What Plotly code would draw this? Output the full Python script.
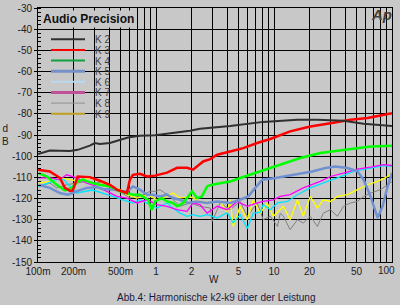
import plotly.graph_objects as go

# ---------------- data (W, dB) ----------------
k2_w = [0.1, 0.126, 0.186, 0.217, 0.275, 0.303, 0.334, 0.407, 0.476, 0.578, 0.731, 0.98, 1.94, 2.36, 4.25, 8.1, 15.8, 23.3, 38.8, 57.4, 100]
k2_db = [-99, -97.3, -97.5, -97, -95, -93.8, -94.2, -93.8, -92.6, -91.2, -90.4, -90.1, -88, -87, -85.7, -83.8, -82.8, -82.8, -83.3, -84.7, -85.8]

k3_w = [0.1, 0.126, 0.153, 0.169, 0.186, 0.197, 0.217, 0.275, 0.334, 0.407, 0.467, 0.567, 0.601, 0.638, 0.731, 0.839, 0.98, 1.24, 1.51, 1.83, 2.06, 2.51, 2.88, 3.30, 4.25, 5.48, 7.21, 9.30, 13.7, 20.3, 30.1, 44.5, 62.1, 100]
k3_db = [-106.4, -107.2, -110.2, -115, -116.3, -116.2, -109.6, -109.9, -111.6, -113.5, -115.8, -117.4, -111.1, -108.8, -108.3, -109.6, -109.2, -107.8, -105.5, -105.5, -106.4, -102.5, -101.4, -99.3, -97.8, -96.2, -93.8, -91.9, -88.3, -86, -84.4, -82.8, -82, -79.7]

k4_w = [0.101, 0.119, 0.144, 0.169, 0.193, 0.217, 0.240, 0.286, 0.334, 0.407, 0.495, 0.567, 0.638, 0.731, 0.855, 0.92, 0.98, 1.12, 1.24, 1.39, 1.51, 1.70, 1.87, 2.02, 2.23, 2.45, 2.71, 2.88, 3.30, 4.25, 5.17, 7.65, 11.3, 16.7, 24.7, 38.8, 65.8, 100]
k4_db = [-108, -109.6, -113.5, -116.2, -115, -112, -111.1, -112.7, -113.5, -114.3, -116.6, -117.4, -118.2, -118.2, -120.6, -125.3, -121.4, -119.8, -121.4, -122.1, -123.7, -122.1, -119, -116.6, -119.8, -119, -114.3, -113.7, -113, -112, -110.3, -107.2, -104, -100.9, -98.5, -97, -95.4, -95.1]

k5_w = [0.101, 0.126, 0.153, 0.179, 0.213, 0.259, 0.315, 0.355, 0.431, 0.525, 0.578, 0.638, 0.731, 0.839, 0.943, 1.08, 1.24, 1.39, 1.60, 1.87, 2.23, 2.71, 3.30, 4.25, 4.69, 6.05, 6.94, 7.96, 10.3, 14.3, 21.1, 27.3, 33.2, 42.0, 51.0, 57.4, 65.8, 75.5, 83.2, 91.8, 100]
k5_db = [-113.5, -115, -117.4, -118.2, -116.6, -115, -114.6, -115.5, -115.8, -116.6, -116.6, -114.3, -115.8, -118.2, -118.2, -119, -118.2, -119.8, -120.6, -122.1, -121.4, -122.1, -121.4, -122.1, -121.4, -119, -115, -111.1, -110.3, -108.8, -107.2, -105.6, -104.9, -105.6, -107.2, -111.1, -119, -129.2, -123.7, -114.3, -107.9]

k6_w = [0.1, 0.122, 0.141, 0.166, 0.175, 0.213, 0.29, 0.355, 0.431, 0.525, 0.638, 0.731, 0.889, 1.02, 1.24, 1.39, 1.60, 1.83, 2.06, 2.36, 2.71, 3.30, 4.01, 4.51, 5.17, 5.93, 6.67, 7.65, 8.1, 9.30, 10.7, 13.0, 15.8, 20.3, 28.4, 34.5, 47.2, 65.8, 84.9, 100]
k6_db = [-114.3, -112.7, -111.1, -111.1, -112.7, -117.4, -116, -117.4, -119, -120.6, -122.1, -120.6, -122.9, -124.5, -122.1, -124.5, -126.9, -128.4, -127.6, -128.4, -127.6, -129.2, -126.7, -131.5, -127.6, -134.2, -127, -126.5, -122.9, -125.3, -122.1, -121.4, -118.2, -115, -111.9, -110.3, -107.2, -105.6, -104.5, -104.8]

k7_w = [0.101, 0.126, 0.153, 0.175, 0.213, 0.259, 0.315, 0.384, 0.467, 0.567, 0.690, 0.839, 1.02, 1.24, 1.51, 1.83, 2.06, 2.36, 2.71, 3.30, 4.01, 4.88, 5.93, 7.21, 8.1, 9.86, 11.3, 13.7, 17.7, 24.7, 30.1, 38.8, 51.0, 65.8, 84.9, 100]
k7_db = [-110.3, -110.3, -111.1, -108.8, -110.3, -112.7, -114.3, -116.6, -119, -119.8, -122.1, -120.6, -122.9, -123.7, -125.3, -126.1, -122.1, -122.9, -126.9, -123.7, -125.3, -121.4, -123.7, -122.1, -121.4, -120.6, -119, -118.2, -115, -111.9, -109.6, -108, -106.1, -105.2, -104, -104.4]

k8_w = [0.101, 0.126, 0.144, 0.175, 0.213, 0.259, 0.315, 0.355, 0.407, 0.495, 0.601, 0.731, 0.889, 1.0, 1.08, 1.31, 1.60, 1.94, 2.36, 2.88, 2.99, 3.50, 4.25, 5.17, 5.93, 7.21, 8.1, 9.30, 10.7, 11.3, 12.0, 13.7, 15.8, 17.7, 20.3, 23.3, 26.2, 30.1, 34.5, 38.8, 44.5, 51.0, 57.4, 65.8, 80, 100]
k8_db = [-114.3, -112.7, -115, -113.5, -112.7, -111.9, -112.7, -111.9, -114.3, -116.6, -119.8, -119, -116.6, -116.6, -115.8, -119, -123.7, -122.1, -123.7, -124.5, -130.8, -122.1, -125.3, -121.4, -128.4, -122.1, -130, -128.4, -133.2, -126.9, -128.4, -134.7, -130, -131.6, -128.4, -133.2, -126.9, -125.3, -128.4, -123.7, -122.1, -121.4, -119, -117.4, -115.8, -112]

k9_w = [0.101, 0.126, 0.153, 0.186, 0.226, 0.275, 0.334, 0.407, 0.495, 0.567, 0.690, 0.839, 1.02, 1.24, 1.39, 1.60, 1.94, 2.36, 2.88, 3.50, 4.01, 4.25, 4.51, 5.17, 5.93, 6.67, 7.65, 8.77, 9.86, 12.0, 13.7, 15.8, 17.7, 20.3, 23.3, 26.2, 30.1, 34.5, 42.0, 51.0, 62.1, 75.5, 91.8, 100]
k9_db = [-112.7, -111.9, -110.3, -111.1, -111.9, -110.3, -111.9, -114.3, -115.8, -118.2, -119.8, -118.2, -120.6, -119, -117.4, -119.8, -119, -121.4, -122.1, -121.4, -126.7, -120.6, -133.2, -123.7, -130, -120.6, -126.9, -122.1, -128.4, -123.7, -130, -120.6, -128.4, -119, -124.5, -120.6, -121.4, -119, -118.2, -115.8, -113.5, -111.9, -109.6, -108]

series_names = ["K 2", "K 3", "K 4", "K 5", "K 6", "K 7", "K 8", "K 9"]
plot_colors = ["#303030", "#ff0000", "#00ff00", "#7090d0", "#00e4ff", "#ff00ff", "#808080", "#ffff00"]
legend_colors = ["#303030", "#ff0000", "#10a040", "#7890c8", "#b8d8f0", "#c05098", "#909090", "#c0a020"]
plot_widths = [2, 2.5, 2.5, 2.5, 1.3, 1.3, 1.0, 1.3]
legend_widths = [2, 2, 2, 3, 2, 3, 1, 2]

x_grid = [0.1, 0.2, 0.3, 0.4, 0.5, 0.6, 0.7, 0.8, 0.9,
          1, 2, 3, 4, 5, 6, 7, 8, 9,
          10, 20, 30, 40, 50, 60, 70, 80, 90, 100]
x_labels = {0.1: "100m", 0.2: "200m", 0.5: "500m", 1: "1", 2: "2", 5: "5",
            10: "10", 20: "20", 50: "50"}
x_last_label = "100"
y_ticks = [-150, -140, -130, -120, -110, -100, -90, -80, -70, -60, -50, -40, -30]
y_labels = ["-150", "-140", "-130", "-120", "-110", "-100", "-90", "-80", "-70", "-60", "-50", "-40", "-30"]

BG = "#c8c8c8"
FONT = "Liberation Sans, Arial, sans-serif"
TXT = "#202020"

series = [(k2_w, k2_db), (k3_w, k3_db), (k4_w, k4_db), (k5_w, k5_db),
          (k6_w, k6_db), (k7_w, k7_db), (k8_w, k8_db), (k9_w, k9_db)]
draw_order = [6, 7, 4, 5, 3, 2, 1, 0]

fig = go.Figure()
for i in draw_order:
    w, db = series[i]
    fig.add_trace(go.Scatter(x=w, y=db, mode="lines", name=series_names[i],
                             line=dict(color=plot_colors[i], width=plot_widths[i]),
                             showlegend=False, hoverinfo="skip"))

W, H = 400, 305
ML, MR, MT, MB = 38, 8, 8, 43
pw, ph = W - ML - MR, H - MT - MB

def px(xp):
    return (xp - ML) / pw

def py(yp):
    return (H - MB - yp) / ph

shapes = [dict(type="rect", xref="paper", yref="paper", x0=0, x1=px(108), y0=py(118), y1=py(11),
               fillcolor=BG, line=dict(width=0), layer="between")]
annotations = []
for i, name in enumerate(series_names):
    yy = 39.3 + i * 10.63
    shapes.append(dict(type="line", xref="paper", yref="paper", x0=px(51), x1=px(85), y0=py(yy), y1=py(yy),
                       line=dict(color=legend_colors[i], width=legend_widths[i]), layer="above"))
    annotations.append(dict(text=name, xref="paper", yref="paper", x=px(94), y=py(yy), xanchor="left",
                            yanchor="middle", showarrow=False, height=10, borderpad=0,
                            font=dict(family=FONT, size=10, color="#404040")))

annotations += [
    dict(text="<b>Audio Precision</b>", xref="paper", yref="paper", x=px(41), y=py(19), xanchor="left",
         yanchor="middle", showarrow=False, font=dict(family=FONT, size=12, color="#101010"),
         bgcolor=BG),
    dict(text="<i><b>Ap</b></i>", xref="paper", yref="paper", x=px(381), y=py(15), xanchor="center",
         yanchor="middle", showarrow=False, font=dict(family=FONT, size=15, color="#404040")),
    dict(text="d<br>B", xref="paper", yref="paper", x=px(5), y=py(135), xanchor="center",
         yanchor="middle", showarrow=False, font=dict(family=FONT, size=10, color=TXT)),
    dict(text="W", xref="paper", yref="paper", x=px(214), y=py(279), xanchor="center",
         yanchor="middle", showarrow=False, font=dict(family=FONT, size=10, color=TXT)),
    dict(text=x_last_label, xref="paper", yref="paper", x=px(396), y=py(270.5), xanchor="right",
         yanchor="middle", showarrow=False, borderpad=0, font=dict(family=FONT, size=10, color=TXT)),
    dict(text="Abb.4: Harmonische k2-k9 über der Leistung", xref="paper", yref="paper", x=px(216), y=py(297.5),
         xanchor="center", yanchor="middle", showarrow=False, font=dict(family=FONT, size=10, color="#1a1a40")),
]

fig.update_layout(
    width=W, height=H,
    margin=dict(l=ML, r=MR, t=MT, b=MB, pad=0),
    paper_bgcolor=BG, plot_bgcolor=BG,
    shapes=shapes, annotations=annotations,
    showlegend=False,
    xaxis=dict(type="log", range=[-1, 2], tickmode="array", tickvals=x_grid,
               ticktext=[x_labels.get(v, "") for v in x_grid],
               showgrid=True, gridcolor="#000000", gridwidth=1,
               showline=True, linecolor="#000000", linewidth=1, mirror=True,
               ticks="", zeroline=False, automargin=False,
               tickfont=dict(family=FONT, size=10, color=TXT)),
    yaxis=dict(range=[-150, -30], tickmode="array", tickvals=y_ticks, ticktext=y_labels,
               showgrid=True, gridcolor="#000000", gridwidth=1,
               showline=True, linecolor="#000000", linewidth=1, mirror=True,
               ticks="outside", ticklen=3, tickcolor="#000000", zeroline=False, automargin=False,
               minor=dict(ticks="inside", dtick=2, ticklen=3, tickcolor="#000000", showgrid=False),
               tickfont=dict(family=FONT, size=10, color=TXT)),
)

fig.write_html("out.html")
